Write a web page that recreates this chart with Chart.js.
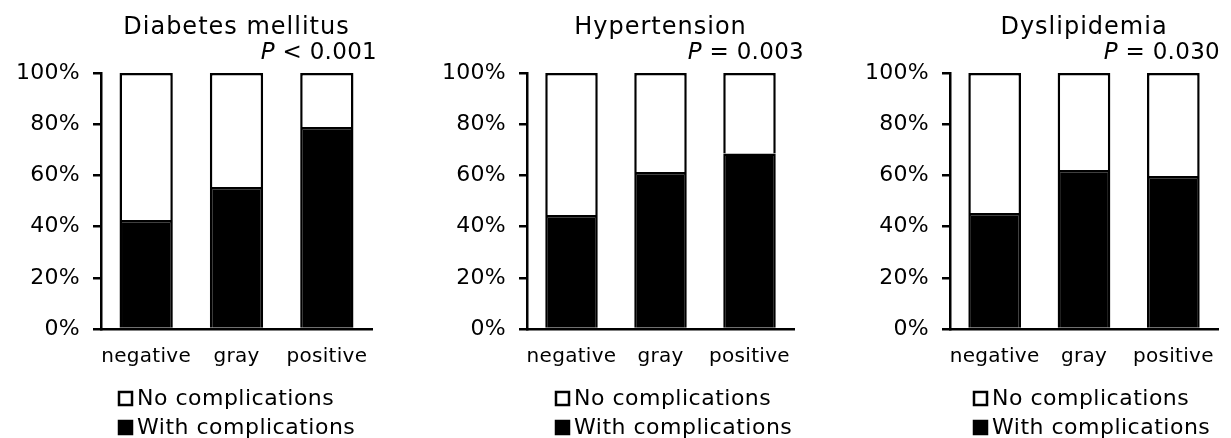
<!DOCTYPE html>
<html>
<head>
<meta charset="utf-8">
<script src="https://cdn.jsdelivr.net/npm/chart.js@4.4.1/dist/chart.umd.min.js"></script>
<style>
  body { margin: 0; background: #fff; }
  #wrap { position: relative; width: 1231px; height: 438px; }
  canvas { position: absolute; top: 0; }
</style>
</head>
<body>
<div id="wrap">
  <canvas id="dm" width="410" height="438" style="left:0px"></canvas>
  <canvas id="ht" width="410" height="438" style="left:420px"></canvas>
  <canvas id="dl" width="391" height="438" style="left:840px"></canvas>
</div>
<script>
// --- data ---
const categories = ['negative', 'gray', 'positive'];
const seriesNames = ['No complications', 'With complications'];
const yTicks = [0, 20, 40, 60, 80, 100];

const dmTitle = 'Diabetes mellitus';
const dmP = '< 0.001';
const dmWith = [42.6, 55.5, 78.9];
const dmNo = [57.4, 44.5, 21.1];

const htTitle = 'Hypertension';
const htP = '= 0.003';
const htWith = [44.5, 61.3, 68.6];
const htNo = [55.5, 38.7, 31.4];

const dlTitle = 'Dyslipidemia';
const dlP = '= 0.030';
const dlWith = [45.3, 62.1, 59.8];
const dlNo = [54.7, 37.9, 40.2];

const FONT = '"DejaVu Sans", Verdana, sans-serif';

// title, P value and the two-row legend drawn around the chart area
const panelText = {
    id: 'panelText',
    afterDraw(chart, args, opts) {
        const ctx = chart.ctx;
        const area = chart.chartArea;
        const mid = (area.left + area.right) / 2;
        ctx.save();
        ctx.fillStyle = '#000';
        ctx.textBaseline = 'middle';

        // title
        ctx.letterSpacing = '1px';
        ctx.font = '24px ' + FONT;
        ctx.textAlign = 'center';
        ctx.fillText(opts.title, mid, 28);

        // P value, right aligned, italic P
        ctx.letterSpacing = '0.3px';
        ctx.textAlign = 'left';
        ctx.font = '23px ' + FONT;
        const rest = ' ' + opts.p;
        const restW = ctx.measureText(rest).width;
        ctx.font = 'italic 23px ' + FONT;
        const pW = ctx.measureText('P').width;
        const x0 = area.right + opts.pShift - restW - pW;
        ctx.fillText('P', x0, 53);
        ctx.font = '23px ' + FONT;
        ctx.fillText(rest, x0 + pW, 53);

        // legend
        ctx.letterSpacing = '0.5px';
        ctx.font = '22px ' + FONT;
        const lx = area.left + opts.legendX;
        const rows = [
            { text: seriesNames[0], y: 399, fill: '#fff' },
            { text: seriesNames[1], y: 428, fill: '#000' }
        ];
        rows.forEach(r => {
            ctx.fillStyle = r.fill;
            ctx.strokeStyle = '#000';
            ctx.lineWidth = 2.5;
            ctx.fillRect(lx + 1, r.y - 7, 13, 13);
            ctx.strokeRect(lx + 1, r.y - 7, 13, 13);
            ctx.fillStyle = '#000';
            ctx.fillText(r.text, lx + 19, r.y);
        });
        ctx.restore();
    }
};

function makePanel(id, title, p, withVals, noVals, areaLeft, rightPad, legendX, pShift) {
    const canvas = document.getElementById(id);
    return new Chart(canvas, {
        type: 'bar',
        data: {
            labels: categories,
            datasets: [
                {
                    label: seriesNames[1],
                    data: withVals,
                    backgroundColor: '#000',
                    borderColor: '#000',
                    borderWidth: 2.5
                },
                {
                    label: seriesNames[0],
                    data: noVals,
                    backgroundColor: '#fff',
                    borderColor: '#000',
                    borderWidth: 2.5
                }
            ]
        },
        options: {
            responsive: false,
            animation: false,
            events: [],
            barPercentage: 0.59,
            categoryPercentage: 1,
            layout: { padding: { top: 73, right: rightPad, left: 0, bottom: 0 } },
            scales: {
                x: {
                    stacked: true,
                    grid: { display: false, drawTicks: false },
                    border: { color: '#000', width: 2.5 },
                    ticks: {
                        color: '#000',
                        padding: 16,
                        maxRotation: 0,
                        minRotation: 0,
                        autoSkip: false,
                        font: { family: FONT, size: 20 }
                    },
                    afterFit(scale) { scale.height = 438 - 329; }
                },
                y: {
                    stacked: true,
                    min: 0,
                    max: 100,
                    afterBuildTicks(scale) { scale.ticks = yTicks.map(v => ({ value: v })); },
                    grid: { display: true, drawOnChartArea: false, drawTicks: true, tickLength: 8, color: '#000', lineWidth: 2.5 },
                    border: { color: '#000', width: 2.5 },
                    ticks: {
                        color: '#000',
                        padding: 13,
                        font: { family: FONT, size: 22 },
                        callback: v => v + '%'
                    },
                    afterFit(scale) { scale.width = areaLeft; }
                }
            },
            plugins: {
                legend: { display: false },
                tooltip: { enabled: false },
                panelText: { title, p, legendX, pShift }
            }
        },
        plugins: [{
            id: 'spacing',
            beforeDraw(chart) { chart.ctx.letterSpacing = '0.3px'; }
        }, panelText]
    });
}

makePanel('dm', dmTitle, dmP, dmWith, dmNo, 101, 38, 17, 5);
makePanel('ht', htTitle, htP, htWith, htNo, 107, 36, 28, 10);
makePanel('dl', dlTitle, dlP, dlWith, dlNo, 110, 13, 23, 2);
</script>
</body>
</html>
